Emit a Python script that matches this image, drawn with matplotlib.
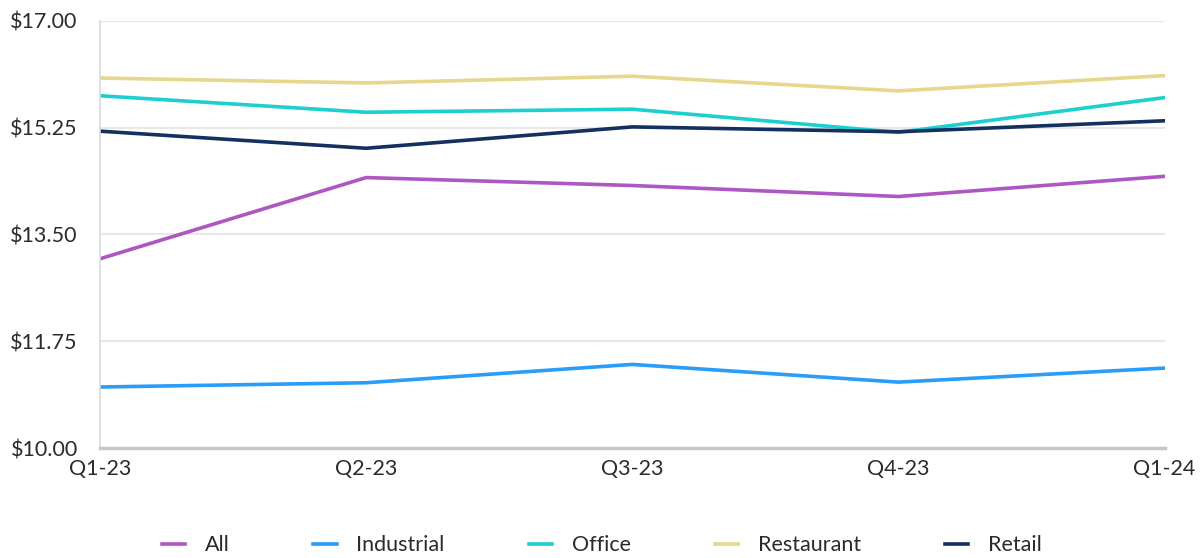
import matplotlib
matplotlib.use("Agg")
import matplotlib.pyplot as plt
from matplotlib.ticker import FuncFormatter

plt.rcParams['font.family'] = ['Lato', 'DejaVu Sans']

# 数据
quarters = ["Q1-23", "Q2-23", "Q3-23", "Q4-23", "Q1-24"]
all_vals = [13.10, 14.43, 14.30, 14.12, 14.45]
industrial = [11.00, 11.07, 11.37, 11.08, 11.31]
office = [15.77, 15.50, 15.55, 15.17, 15.74]
restaurant = [16.06, 15.98, 16.09, 15.85, 16.10]
retail = [15.19, 14.91, 15.26, 15.18, 15.36]

series = [
    ("All", all_vals, "#AE57C2"),
    ("Industrial", industrial, "#2A9DF8"),
    ("Office", office, "#1DCFCF"),
    ("Restaurant", restaurant, "#E7D68C"),
    ("Retail", retail, "#13305E"),
]

fig = plt.figure(figsize=(12.03, 5.58), dpi=100)
ax = fig.add_axes([0.0831, 0.197, 0.885, 0.766])

x = list(range(len(quarters)))
for name, vals, color in series:
    ax.plot(x, vals, color=color, linewidth=2.6, label=name)

ax.set_xlim(0, len(quarters) - 1)
ax.set_ylim(10, 17)
ax.set_yticks([10.0, 11.75, 13.5, 15.25, 17.0])
ax.yaxis.set_major_formatter(FuncFormatter(lambda v, p: f"${v:.2f}"))
ax.set_xticks(x)
ax.set_xticklabels(quarters)

ax.grid(axis="y", color="#e8e8e8", linewidth=1.5)
ax.set_axisbelow(True)
for s in ["top", "right"]:
    ax.spines[s].set_visible(False)
ax.spines["left"].set_color("#d5dae3")
ax.spines["left"].set_linewidth(1.2)
ax.spines["bottom"].set_color("#c3c7ce")
ax.spines["bottom"].set_linewidth(2.5)
ax.tick_params(axis="both", length=0, labelsize=15.5, colors="#2b2b2b")
ax.tick_params(axis="y", pad=16)
ax.tick_params(axis="x", pad=8)

leg = fig.legend(loc="lower center", bbox_to_anchor=(0.5, -0.03), ncol=5, frameon=False,
                 fontsize=15.5, handlelength=1.1, handletextpad=0.9, columnspacing=3.9)
for t in leg.get_texts():
    t.set_color("#2b2b2b")

fig.savefig("out.png", dpi=100)
